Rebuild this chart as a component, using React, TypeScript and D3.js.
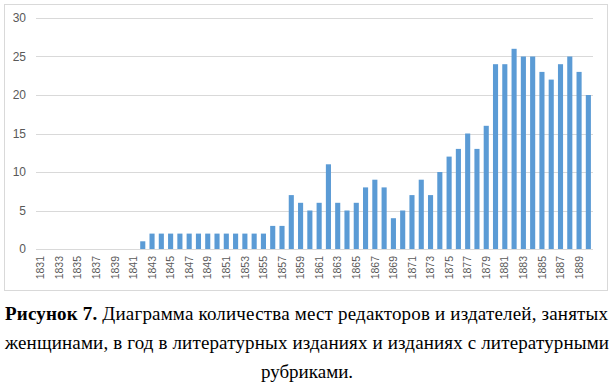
import React, { useEffect, useRef } from "react";
import * as d3 from "d3";

// --- Data
const years = d3.range(1831, 1891).map(String);
const counts = [
  0, 0, 0, 0, 0, 0, 0, 0, 0, 0, 0, // 1831-1841
  1, 2, 2, 2, 2, 2, 2, 2, 2, 2, 2, 2, 2, 2, // 1842-1855
  3, 3, 7, 6, 5, 6, 11, 6, 5, 6, 8, 9, 8, 4, 5, // 1856-1870
  7, 9, 7, 10, 12, 13, 15, 13, 16, 24, // 1871-1880
  24, 26, 25, 25, 23, 22, 24, 25, 23, 20, // 1881-1890
];
const yTicks = [0, 5, 10, 15, 20, 25, 30];
const tickYears = years.filter((_, i) => i % 2 === 0);
const captionBold = "Рисунок 7.";
const captionLine1 = " Диаграмма количества мест редакторов и издателей, занятых";
const captionLine2 = "женщинами, в год в литературных изданиях и изданиях с литературными";
const captionLine3 = "рубриками.";

const App: React.FC = () => {
  const ref = useRef<SVGSVGElement | null>(null);
  const width = 614;
  const height = 392;

  useEffect(() => {
    if (!ref.current) return;
    const root = d3.select(ref.current);
    root.selectAll("*").remove();

    const plot = { left: 36, right: 593, top: 18, bottom: 249 };

    const x = d3
      .scaleBand<string>()
      .domain(years)
      .range([plot.left, plot.right])
      .paddingInner(0.45)
      .paddingOuter(0.225);

    const y = d3.scaleLinear().domain([0, 30]).range([plot.bottom, plot.top]);

    // chart border
    root
      .append("rect")
      .attr("x", 4.5)
      .attr("y", 4.5)
      .attr("width", 603)
      .attr("height", 286)
      .attr("fill", "white")
      .attr("stroke", "#d9d9d9");

    // gridlines
    root
      .append("g")
      .selectAll("line")
      .data(yTicks)
      .join("line")
      .attr("x1", plot.left)
      .attr("x2", plot.right)
      .attr("y1", (d) => Math.round(y(d)) + 0.5)
      .attr("y2", (d) => Math.round(y(d)) + 0.5)
      .attr("stroke", "#d9d9d9")
      .attr("stroke-width", 1);

    // y labels
    root
      .append("g")
      .selectAll("text")
      .data(yTicks)
      .join("text")
      .attr("x", 26)
      .attr("y", (d) => y(d))
      .attr("dy", "0.35em")
      .attr("text-anchor", "end")
      .style("font-family", "Liberation Sans, Arial, sans-serif")
      .style("font-size", "12px")
      .style("fill", "#595959")
      .text((d) => d);

    // bars
    root
      .append("g")
      .selectAll("rect")
      .data(counts)
      .join("rect")
      .attr("x", (_, i) => x(years[i])!)
      .attr("y", (d) => y(d))
      .attr("width", x.bandwidth())
      .attr("height", (d) => y(0) - y(d))
      .attr("fill", "#5b9bd5");

    // x labels (rotated)
    root
      .append("g")
      .selectAll("text")
      .data(tickYears)
      .join("text")
      .attr(
        "transform",
        (d) => `translate(${x(d)! + x.bandwidth() / 2}, 256) rotate(-90)`
      )
      .attr("dy", "0.35em")
      .attr("text-anchor", "end")
      .style("font-family", "Liberation Sans, Arial, sans-serif")
      .style("font-size", "10.5px")
      .style("fill", "#595959")
      .text((d) => d);

    // caption
    const cap = root
      .append("g")
      .style("font-family", "Liberation Serif, Times New Roman, serif")
      .style("font-size", "19px")
      .style("fill", "#000");

    const l1 = cap
      .append("text")
      .attr("x", 5)
      .attr("y", 320)
      .attr("textLength", 603)
      .attr("lengthAdjust", "spacing");
    l1.append("tspan").style("font-weight", "bold").text(captionBold);
    l1.append("tspan").text(captionLine1);

    cap
      .append("text")
      .attr("x", 5)
      .attr("y", 349)
      .attr("textLength", 604)
      .attr("lengthAdjust", "spacing")
      .text(captionLine2);

    cap
      .append("text")
      .attr("x", 307)
      .attr("y", 378)
      .attr("text-anchor", "middle")
      .text(captionLine3);

    return () => {
      root.selectAll("*").remove();
    };
  }, []);

  return (
    <svg
      ref={ref}
      width={width}
      height={height}
      style={{ position: "absolute", left: 0, top: 0, background: "white" }}
    />
  );
};

export default App;
